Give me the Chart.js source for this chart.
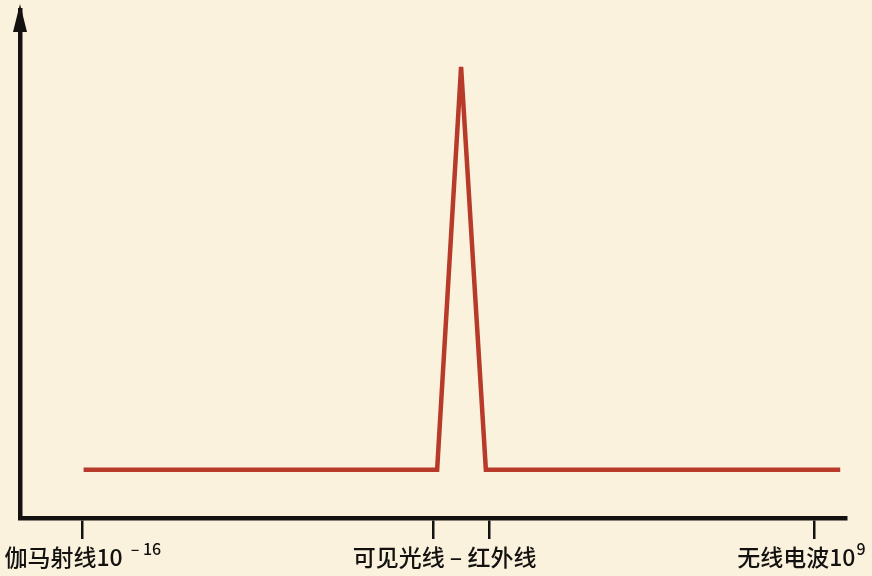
<!DOCTYPE html>
<html>
<head>
<meta charset="utf-8">
<script src="https://cdn.jsdelivr.net/npm/chart.js@4"></script>
<style>
  html, body { margin: 0; padding: 0; background: #faf2dc; }
  #wrap { width: 872px; height: 576px; }
</style>
</head>
<body>
<div id="wrap"><canvas id="spectrum"></canvas></div>
<script>
// 光谱示意：横轴为波长（示意刻度），纵轴为强度
const lineX = [7.7, 50.5, 53.4, 56.4, 99.3];
const lineY = [9.5, 9.5, 88.8, 9.5, 9.5];

// 刻度线位置
const tickValues = [7.5, 50.0, 56.8, 96.2];

// 刻度文字（主文字 + 上标）
const labelValues = [7.6, 51.4, 94.6];
const labelTexts = ["伽马射线10", "可见光线 – 红外线", "无线电波10"];
const labelSups = ["– 16", "", "9"];
const supGaps = [8, 0, 1];

const FONT = '"Noto Sans CJK SC", "Noto Sans", sans-serif';

// 纵轴箭头 + 底部文字
const axisDecor = {
  id: "axisDecor",
  afterDraw(chart) {
    const ctx = chart.ctx;
    const area = chart.chartArea;
    const xs = chart.scales.x;

    ctx.save();
    ctx.fillStyle = "#141210";
    ctx.beginPath();
    ctx.moveTo(area.left, area.top - 6);
    ctx.lineTo(area.left - 7, area.top + 22);
    ctx.lineTo(area.left + 7, area.top + 22);
    ctx.closePath();
    ctx.fill();

    labelTexts.forEach((txt, i) => {
      const sup = labelSups[i];
      ctx.font = "500 23px " + FONT;
      const w1 = ctx.measureText(txt).width;
      ctx.font = "500 16px " + FONT;
      const w2 = sup ? ctx.measureText(sup).width + supGaps[i] : 0;
      const cx = xs.getPixelForValue(labelValues[i]);
      const x0 = cx - (w1 + w2) / 2;
      ctx.textAlign = "left";
      ctx.textBaseline = "alphabetic";
      ctx.font = "500 23px " + FONT;
      ctx.fillText(txt, x0, 566);
      if (sup) {
        ctx.font = "500 16px " + FONT;
        ctx.fillText(sup, x0 + w1 + supGaps[i], 555);
      }
    });
    ctx.restore();
  }
};

const ctx = document.getElementById("spectrum").getContext("2d");
new Chart(ctx, {
  type: "line",
  data: {
    datasets: [{
      data: lineX.map((x, i) => ({ x: x, y: lineY[i] })),
      borderColor: "#b83a2a",
      borderWidth: 4.5,
      pointRadius: 0,
      tension: 0,
      borderJoinStyle: "miter"
    }]
  },
  options: {
    responsive: true,
    maintainAspectRatio: false,
    animation: false,
    layout: { padding: { left: 20, right: 26, top: 10, bottom: 37 } },
    plugins: {
      legend: { display: false },
      tooltip: { enabled: false }
    },
    scales: {
      x: {
        type: "linear",
        min: 0,
        max: 100,
        afterBuildTicks: (scale) => {
          scale.ticks = tickValues.map(v => ({ value: v }));
        },
        ticks: { display: false },
        grid: {
          display: true,
          drawOnChartArea: false,
          drawTicks: true,
          tickLength: 21,
          color: "#141210",
          lineWidth: 2.5
        },
        border: { display: true, color: "#141210", width: 4.5 }
      },
      y: {
        min: 0,
        max: 100,
        ticks: { display: false },
        grid: { display: false, drawTicks: false },
        border: { display: true, color: "#141210", width: 4.5 }
      }
    }
  },
  plugins: [axisDecor]
});
</script>
</body>
</html>
